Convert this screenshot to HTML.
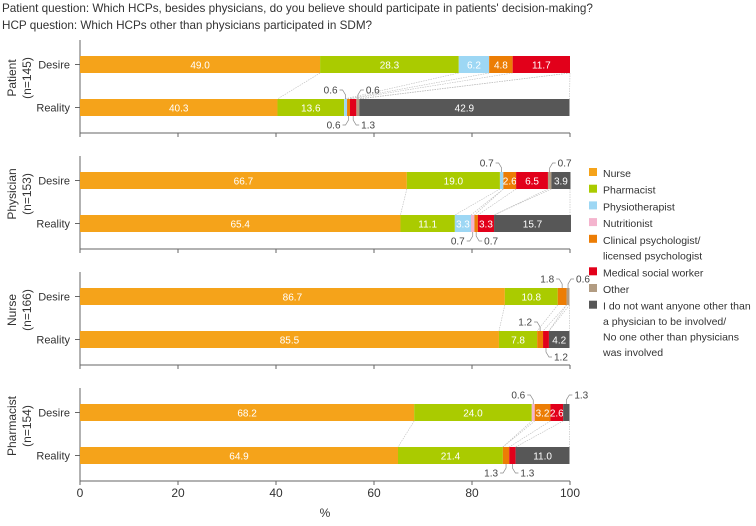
<!DOCTYPE html>
<html><head><meta charset="utf-8"><style>
body{margin:0;background:#fff;font-family:"Liberation Sans",sans-serif;}
svg text{font-family:"Liberation Sans",sans-serif;}
</style></head><body>
<svg id="c" width="756" height="521"></svg>
<script>
const categories=["Nurse","Pharmacist","Physiotherapist","Nutritionist","Clinical psychologist/ licensed psychologist","Medical social worker","Other","I do not want anyone"];
const colors=["#F5A31A","#AACB00","#9DD7F4","#F4B4CE","#EC7D05","#E2001A","#B29C82","#575757"];
const groups=["Patient","Physician","Nurse","Pharmacist"];
const groupN=["(n=145)","(n=153)","(n=166)","(n=154)"];
const desireVals=[
[49.0,28.3,6.2,0,4.8,11.7,0,0],
[66.7,19.0,0.7,0,2.6,6.5,0.7,3.9],
[86.7,10.8,0,0,1.8,0,0.6,0],
[68.2,24.0,0,0.6,3.2,2.6,0,1.3]];
const realityVals=[
[40.3,13.6,0.6,0,0.6,1.3,0.6,42.9],
[65.4,11.1,3.3,0.7,0.7,3.3,0,15.7],
[85.5,7.8,0,0,1.2,1.2,0,4.2],
[64.9,21.4,0,0,1.3,1.3,0,11.0]];
const ticks=[0,20,40,60,80,100];
// callout placement (style): a=above, b=below, l=left, r=right
const placeD=[[],["al","ar"],["al","ar"],["al","ar"]];
const placeR=[["al","bl","br","ar"],["bl","br"],["al","br"],["bl","br"]];
const svg=document.getElementById('c');
const NS="http://www.w3.org/2000/svg";
function el(t,a,p){const e=document.createElementNS(NS,t);for(const k in a)e.setAttribute(k,a[k]);(p||svg).appendChild(e);return e;}
const x=v=>80+v*4.9;
const panelAxis=[133,249,365,481];
function txt(s,a,p){const e=el('text',a,p);e.textContent=s;return e;}
let t=txt("Patient question: Which HCPs, besides physicians, do you believe should participate in patients' decision-making?",{x:2,y:12,'font-size':11.7,fill:'#333'});

t=txt("HCP question: Which HCPs other than physicians participated in SDM?",{x:2,y:29,'font-size':11.7,fill:'#333'});

groups.forEach((g,gi)=>{
  const ax=panelAxis[gi];
  const yD=ax-77,yR=ax-34,h=17;
  const gp=el('g',{});
  
  
  el('line',{x1:80,y1:ax-93,x2:80,y2:ax,stroke:'#666','stroke-width':1},gp);
  el('line',{x1:80,y1:ax,x2:570,y2:ax,stroke:'#666','stroke-width':1},gp);
  ticks.forEach(tv=>el('line',{x1:x(tv),y1:ax,x2:x(tv),y2:ax+4,stroke:'#666'},gp));
  [[yD,'Desire'],[yR,'Reality']].forEach(([yy,l])=>{
    const lt=txt(l,{x:70,y:yy+h/2+4,'font-size':11,'text-anchor':'end',fill:'#333'},gp);
    
    el('line',{x1:75,y1:yy+h/2,x2:80,y2:yy+h/2,stroke:'#666'},gp);
  });
  const gx=txt(g,{x:0,y:0,'font-size':12,'text-anchor':'middle',fill:'#333',transform:`translate(16,${ax-55}) rotate(-90)`},gp);
  
  const gn=txt(groupN[gi],{x:0,y:0,'font-size':12,'text-anchor':'middle',fill:'#333',transform:`translate(31,${ax-55}) rotate(-90)`},gp);
  
  let cd=0,cr=0;
  for(let i=0;i<8;i++){cd+=desireVals[gi][i];cr+=realityVals[gi][i];
    if(desireVals[gi][i]||realityVals[gi][i]) el('line',{x1:x(Math.min(cd,100)),y1:yD+h,x2:x(Math.min(cr,100)),y2:yR,stroke:'#bbb','stroke-width':0.6,'stroke-dasharray':'1.5,1'},gp);}
  [[desireVals[gi],yD,'desire',placeD[gi]],[realityVals[gi],yR,'reality',placeR[gi]]].forEach(([vals,yy,nm,pl])=>{
    let c=0;let small=[];
    vals.forEach((v,i)=>{
      if(v>0){
        const r=el('rect',{x:x(c),y:yy,width:v*4.9,height:h,fill:colors[i]},gp);
        
        if(v>=2.5){const lt=txt(v.toFixed(1),{x:x(c+v/2),y:yy+h/2+4,'font-size':10,'text-anchor':'middle',fill:'#fff'},gp);
          }
        else small.push([v,x(c+v/2)]);
      }
      c+=v;
    });
    small.forEach(([v,cx],k)=>{
      const p=pl[k]||(k%2?'br':'al');
      const above=p[0]==='a', left=p[1]==='l';
      const ey=above?yy:yy+h, dy=above?-1:1, dx=left?-1:1;
      const y2=ey+dy*9;
      el('path',{d:`M${cx},${ey} L${cx},${ey+dy*4} L${cx+dx*3},${y2} L${cx+dx*6},${y2}`,fill:'none',stroke:'#888','stroke-width':0.7},gp);
      const lt=txt(v.toFixed(1),{x:cx+dx*8,y:y2+3.5,'font-size':10,'text-anchor':left?'end':'start',fill:'#444'},gp);
      
    });
  });
});
ticks.forEach(tv=>{const e=txt(String(tv),{x:x(tv),y:497,'font-size':12,'text-anchor':'middle',fill:'#333'});
});
t=txt('%',{x:325,y:517,'font-size':12,'text-anchor':'middle',fill:'#333'});

const legendLines=[["Nurse"],["Pharmacist"],["Physiotherapist"],["Nutritionist"],["Clinical psychologist/","licensed psychologist"],["Medical social worker"],["Other"],["I do not want anyone other than","a physician to be involved/","No one other than physicians","was involved"]];
let ly=173;
legendLines.forEach((ls,i)=>{
  const g=el('g',{});
  el('rect',{x:589,y:ly-5,width:8,height:8,fill:colors[i]},g);
  ls.forEach((s,j)=>{txt(s,{x:603,y:ly+4+j*15.5,'font-size':10.5,fill:'#333'},g);});
  ly+=ls.length===1?16.7:(ls.length===2?32.5:0);
});
</script>
</body></html>
